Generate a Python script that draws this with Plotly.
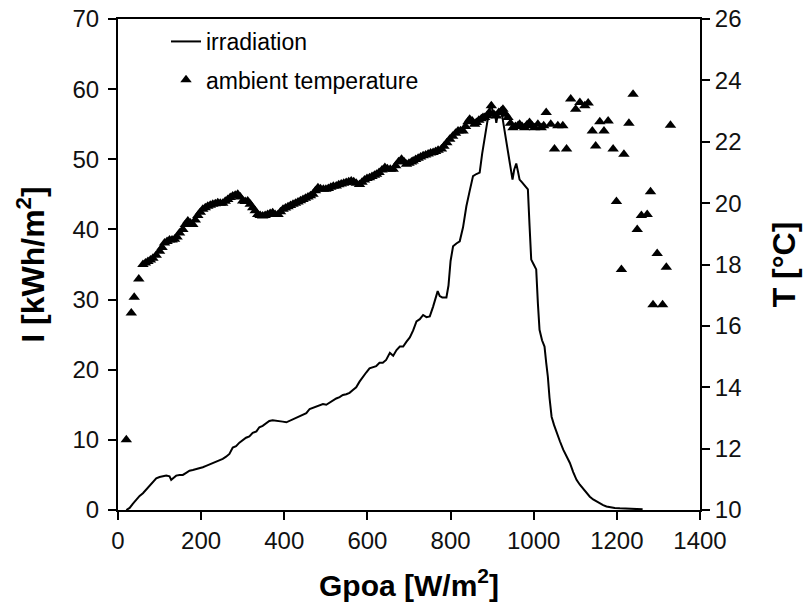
import plotly.graph_objects as go

# Irradiation curve (Gpoa [W/m2], I [kWh/m2])
irr_g = [20, 28, 36, 44, 52, 60, 68, 76, 84, 92, 100, 108, 116, 124, 128, 134, 140, 148, 156, 164,
         172, 180, 188, 196, 204, 212, 220, 228, 237, 244, 252, 260, 268, 276, 284, 292, 300, 308,
         316, 324, 333, 340, 348, 356, 364, 372, 380, 388, 396, 405, 413, 421, 429, 437, 445, 453,
         461, 469, 477, 485, 493, 501, 509, 517, 525, 533, 541, 549, 557, 565, 573, 581, 589, 597,
         605, 613, 621, 629, 637, 645, 654, 662, 670, 678, 686, 694, 702, 710, 718, 726, 734, 742,
         750, 758, 764, 769, 774, 780, 790, 795, 800, 806, 814, 822, 830, 838, 846, 854, 862, 870,
         876, 882, 888, 894, 898, 902, 906, 910, 914, 918, 922, 926, 930, 934, 940, 946, 949, 953,
         958, 962, 966, 972, 980, 986, 990, 994, 1000, 1006, 1010, 1014, 1020, 1026, 1030, 1034,
         1038, 1043, 1049, 1055, 1063, 1071, 1079, 1087, 1095, 1103, 1111, 1119, 1127, 1135, 1143,
         1151, 1159, 1167, 1175, 1185, 1195, 1207, 1220, 1235, 1250, 1262]
irr_i = [0.0, 0.3, 0.9, 1.5, 2.0, 2.4, 2.9, 3.4, 3.9, 4.5, 4.7, 4.8, 4.9, 4.8, 4.3, 4.6, 4.9, 5.0, 5.0, 5.3,
         5.6, 5.7, 5.8, 5.9, 6.1, 6.3, 6.5, 6.7, 6.9, 7.1, 7.3, 7.6, 8.0, 8.9, 9.1, 9.6, 10.0, 10.3,
         10.5, 11.0, 11.2, 11.8, 12.0, 12.4, 12.7, 12.8, 12.7, 12.7, 12.6, 12.5, 12.7, 12.9, 13.1, 13.3, 13.5, 13.8,
         14.4, 14.6, 14.7, 14.9, 15.1, 15.0, 15.3, 15.7, 15.9, 16.1, 16.4, 16.5, 16.7, 17.1, 17.5, 18.3, 19.0, 19.6,
         20.2, 20.3, 20.5, 21.0, 21.0, 21.4, 22.4, 22.0, 22.8, 23.3, 23.3, 24.0, 24.6, 25.6, 26.9, 27.2, 27.8, 27.5,
         27.6, 29.0, 30.2, 31.2, 30.5, 30.3, 30.3, 32.0, 35.5, 37.6, 38.0, 38.3, 40.3, 43.3, 45.5, 47.6, 47.9, 48.1,
         50.8, 53.3, 55.2, 57.1, 58.1, 56.3, 56.8, 55.2, 56.5, 57.0, 57.1, 55.5, 54.0, 52.4, 50.6, 48.4, 47.1, 48.5,
         49.4, 48.3, 47.1, 46.7, 46.2, 45.7, 40.5, 35.7, 35.0, 34.3, 29.5, 25.7, 24.2, 23.3, 21.0, 19.0,
         16.0, 13.3, 12.1, 11.0, 9.8, 8.6, 7.7, 6.7, 5.4, 4.3, 3.6, 3.0, 2.4, 1.9, 1.5,
         1.2, 0.9, 0.7, 0.5, 0.35, 0.3, 0.24, 0.2, 0.15, 0.12, 0.1]

# Ambient temperature (Gpoa [W/m2], T [degC])
tmp_g = [20, 32, 39, 50, 60, 66, 72, 78, 84, 92, 100, 106, 112, 118, 124, 130, 136, 142, 148, 156,
         162, 168, 174, 180, 186, 192, 198, 204, 210, 216, 222, 228, 234, 240, 246, 252, 258, 264,
         270, 276, 282, 288, 294, 300, 306, 312, 318, 324, 330, 336, 342, 348, 354, 360, 366, 372,
         378, 385, 391, 397, 403, 409, 415, 421, 427, 433, 439, 445, 451, 457, 463, 469, 475, 481,
         487, 494, 500, 506, 512, 518, 525, 531, 537, 543, 549, 555, 561, 567, 573, 581, 587, 593,
         599, 605, 611, 617, 622, 628, 635, 642, 648, 655, 662, 668, 675, 682, 688, 694, 700, 706,
         710, 716, 722, 728, 734, 740, 746, 752, 758, 764, 770, 778, 784, 791, 798, 805, 812, 818,
         824, 830, 836, 842, 846, 852, 858, 862, 868, 874, 878, 882, 888, 893, 898, 904, 910, 916,
         922, 926, 932, 938, 944, 950, 956, 962, 966, 972, 978, 984, 990, 996, 1002, 1010, 1018,
         1024, 1030, 1041, 1050, 1058, 1070, 1079, 1089, 1101, 1111, 1123, 1131, 1141, 1149, 1159,
         1169, 1179, 1191, 1199, 1211, 1217, 1229, 1239, 1249, 1259, 1273, 1281, 1287, 1297, 1310,
         1319, 1329]
tmp_t = [12.29, 16.42, 16.93, 17.53, 18.00, 18.05, 18.10, 18.15, 18.20, 18.30, 18.43, 18.55, 18.70, 18.75,
         18.80, 18.80, 18.82, 18.90, 19.03, 19.14, 19.30, 19.42, 19.35, 19.30, 19.45, 19.60, 19.70, 19.80,
         19.85, 19.90, 19.93, 19.96, 19.98, 20.01, 20.00, 20.00, 20.06, 20.12, 20.18, 20.23, 20.26, 20.29,
         20.20, 20.07, 20.05, 20.07, 19.96, 19.85, 19.75, 19.63, 19.60, 19.58, 19.60, 19.63, 19.66, 19.69,
         19.63, 19.63, 19.72, 19.80, 19.84, 19.88, 19.92, 19.96, 20.00, 20.04, 20.08, 20.12, 20.16, 20.20,
         20.24, 20.29, 20.40, 20.50, 20.47, 20.45, 20.45, 20.48, 20.52, 20.55, 20.56, 20.60, 20.62, 20.65,
         20.67, 20.70, 20.72, 20.70, 20.65, 20.61, 20.68, 20.75, 20.80, 20.83, 20.87, 20.91, 20.94, 21.00,
         21.08, 21.16, 21.12, 21.10, 21.10, 21.22, 21.35, 21.43, 21.35, 21.27, 21.30, 21.34, 21.37, 21.42,
         21.46, 21.50, 21.54, 21.57, 21.60, 21.63, 21.65, 21.68, 21.72, 21.76, 21.85, 21.97, 22.08, 22.18,
         22.28, 22.35, 22.36, 22.35, 22.50, 22.65, 22.73, 22.68, 22.57, 22.63, 22.70, 22.75, 22.79, 22.79,
         22.85, 22.95, 23.17, 22.90, 22.84, 22.95, 23.00, 23.06, 22.90, 22.79, 22.60, 22.46, 22.50, 22.52,
         22.57, 22.50, 22.46, 22.55, 22.63, 22.52, 22.46, 22.57, 22.46, 22.52, 22.95, 22.57, 21.76, 22.52,
         22.52, 21.76, 23.39, 23.06, 23.28, 23.17, 23.26, 22.35, 21.86, 22.65, 22.35, 22.68, 21.76, 20.05,
         17.84, 21.59, 22.60, 23.55, 19.14, 19.60, 19.63, 20.37, 16.69, 18.36, 16.69, 17.91, 22.54]

FONT = "Liberation Sans, Arial, sans-serif"

fig = go.Figure()
fig.add_trace(go.Scatter(
    x=irr_g, y=irr_i, mode="lines", name="irradiation", showlegend=True,
    line=dict(color="black", width=2), legend="legend"))
fig.add_trace(go.Scatter(
    x=tmp_g, y=tmp_t, mode="markers", name="ambient temperature", yaxis="y2", showlegend=True,
    marker=dict(symbol="triangle-up", size=10, color="black"), legend="legend2"))

axis_common = dict(showline=True, linecolor="black", linewidth=2, ticks="outside",
                   ticklen=8, tickwidth=2, tickcolor="black", showgrid=False, zeroline=False,
                   ticklabeloverflow="allow", automargin=False,
                   tickfont=dict(family=FONT, size=24, color="#111"))

fig.update_layout(
    width=803, height=614,
    margin=dict(l=118, r=103, t=19, b=104, autoexpand=False),
    paper_bgcolor="white", plot_bgcolor="white",
    font=dict(family=FONT, color="black"),
    showlegend=True,
    xaxis=dict(range=[0, 1400], dtick=200, mirror=True,
               title=dict(text="<b>Gpoa [W/m<sup>2</sup>]</b>", font=dict(family=FONT, size=30, color="black"),
                          standoff=22),
               **axis_common),
    yaxis=dict(range=[0, 70], dtick=10, mirror=True, ticklabelstandoff=4,
               title=dict(text="<b>I [kWh/m<sup>2</sup>]</b>", font=dict(family=FONT, size=32, color="black"),
                          standoff=18),
               **axis_common),
    yaxis2=dict(range=[10, 26], dtick=2, overlaying="y", side="right",
                title=dict(text="<b>T [°C]</b>", font=dict(family=FONT, size=32, color="black"), standoff=32),
                **axis_common),
    legend=dict(x=0.0825, y=0.998, xanchor="left", yanchor="top", bgcolor="rgba(0,0,0,0)",
                font=dict(family=FONT, size=23, color="black")),
    legend2=dict(x=0.0825, y=0.92, xanchor="left", yanchor="top", bgcolor="rgba(0,0,0,0)",
                 font=dict(family=FONT, size=23, color="black")),
)

fig.write_html("out.html", config={"displayModeBar": False},
               post_script="document.body.style.margin='0';document.body.style.overflow='hidden';")
